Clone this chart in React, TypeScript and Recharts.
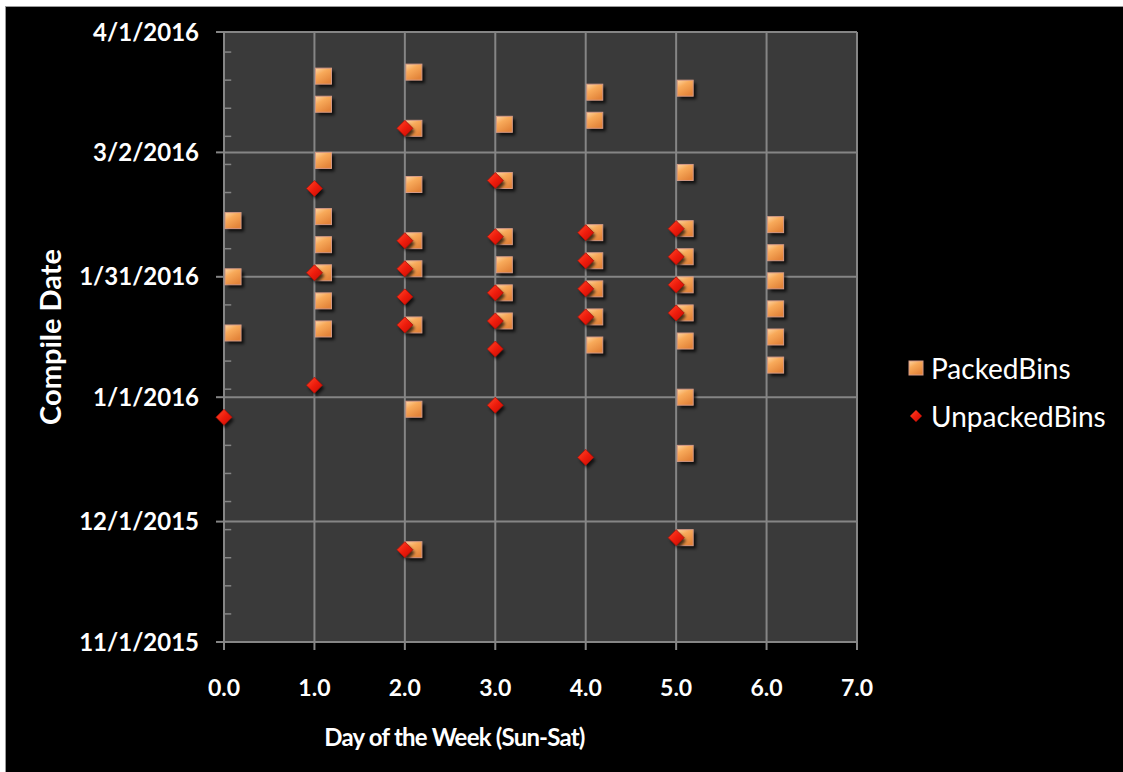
import { ScatterChart, Scatter, XAxis, YAxis, CartesianGrid, Legend, ReferenceLine } from 'recharts'

const FONT = 'Lato, "Open Sans", sans-serif'

// day of week (with +0.1 offset in the source sheet) and compile date
const packedDay = [
	0.1, 0.1, 0.1,
	1.1, 1.1, 1.1, 1.1, 1.1, 1.1, 1.1, 1.1,
	2.1, 2.1, 2.1, 2.1, 2.1, 2.1, 2.1, 2.1,
	3.1, 3.1, 3.1, 3.1, 3.1, 3.1,
	4.1, 4.1, 4.1, 4.1, 4.1, 4.1, 4.1,
	5.1, 5.1, 5.1, 5.1, 5.1, 5.1, 5.1, 5.1, 5.1, 5.1,
	6.1, 6.1, 6.1, 6.1, 6.1, 6.1,
]
const packedDate = [
	'2016-02-14', '2016-01-31', '2016-01-17',
	'2016-03-21', '2016-03-14', '2016-02-29', '2016-02-15', '2016-02-08', '2016-02-01', '2016-01-25', '2016-01-18',
	'2016-03-22', '2016-03-08', '2016-02-23', '2016-02-09', '2016-02-02', '2016-01-19', '2015-12-29', '2015-11-24',
	'2016-03-09', '2016-02-24', '2016-02-10', '2016-02-03', '2016-01-27', '2016-01-20',
	'2016-03-17', '2016-03-10', '2016-02-11', '2016-02-04', '2016-01-28', '2016-01-21', '2016-01-14',
	'2016-03-18', '2016-02-26', '2016-02-12', '2016-02-05', '2016-01-29', '2016-01-22', '2016-01-15', '2016-01-01', '2015-12-18', '2015-11-27',
	'2016-02-13', '2016-02-06', '2016-01-30', '2016-01-23', '2016-01-16', '2016-01-09',
]

const unpackedDay = [
	0,
	1, 1, 1,
	2, 2, 2, 2, 2, 2,
	3, 3, 3, 3, 3, 3,
	4, 4, 4, 4, 4,
	5, 5, 5, 5, 5,
]
const unpackedDate = [
	'2015-12-27',
	'2016-02-22', '2016-02-01', '2016-01-04',
	'2016-03-08', '2016-02-09', '2016-02-02', '2016-01-26', '2016-01-19', '2015-11-24',
	'2016-02-24', '2016-02-10', '2016-01-27', '2016-01-20', '2016-01-13', '2015-12-30',
	'2016-02-11', '2016-02-04', '2016-01-28', '2016-01-21', '2015-12-17',
	'2016-02-12', '2016-02-05', '2016-01-29', '2016-01-22', '2015-11-27',
]

const xTicks = [0, 1, 2, 3, 4, 5, 6, 7]
const yTickDates = ['2015-11-01', '2015-12-01', '2016-01-01', '2016-01-31', '2016-03-02', '2016-04-01']

const toTime = (s: string) => Date.parse(s)
const DAY = 86400000
const yMin = toTime('2015-11-01')
const yMax = toTime('2016-04-01')
const yTicks = yTickDates.map(toTime)

// weekly minor tick marks on the date axis
const minorTicks: number[] = []
for (let t = yMin + 7 * DAY; t < yMax; t += 7 * DAY) minorTicks.push(t)

const packedData = packedDay.map((x, i) => ({ x, y: toTime(packedDate[i]) }))
const unpackedData = unpackedDay.map((x, i) => ({ x, y: toTime(unpackedDate[i]) }))

const fmtDate = (v: number) => {
	const d = new Date(v)
	return `${d.getUTCMonth() + 1}/${d.getUTCDate()}/${d.getUTCFullYear()}`
}

const PackedSquare = (props: any) => {
	const { cx, cy } = props
	if (cx == null || cy == null) return null
	return (
		<g>
			<rect x={cx - 5} y={cy - 5} width={16} height={16} fill='#000' opacity={0.75} filter='url(#markShadow)' />
			<rect x={cx - 8} y={cy - 8} width={16} height={16} fill='url(#packedFill)' stroke='#d59a86' strokeWidth={1} />
		</g>
	)
}

const UnpackedDiamond = (props: any) => {
	const { cx, cy } = props
	if (cx == null || cy == null) return null
	const r = 8
	return (
		<g>
			<polygon
				points={`${cx + 2},${cy - r + 3} ${cx + r + 2},${cy + 3} ${cx + 2},${cy + r + 3} ${cx - r + 2},${cy + 3}`}
				fill='#000'
				opacity={0.7}
				filter='url(#markShadow)'
			/>
			<polygon
				points={`${cx},${cy - r} ${cx + r},${cy} ${cx},${cy + r} ${cx - r},${cy}`}
				fill='url(#unpackedFill)'
				stroke='#b01008'
				strokeWidth={0.8}
			/>
		</g>
	)
}

const renderLegend = (props: any) => {
	const { payload } = props
	return (
		<div style={{ fontFamily: FONT }}>
			{(payload || []).map((entry: any, i: number) => (
				<div key={`leg-${i}`} style={{ display: 'flex', alignItems: 'center', height: 48 }}>
					<svg width={20} height={20} style={{ marginRight: 5 }}>
						{entry.value === 'PackedBins' ? (
							<rect x={3} y={3} width={14} height={14} fill='url(#packedFill)' stroke='#d59a86' strokeWidth={1} />
						) : (
							<polygon points='10,4 16,10 10,16 4,10' fill='url(#unpackedFill)' />
						)}
					</svg>
					<span style={{ color: '#fff', fontSize: 28 }}>{entry.value}</span>
				</div>
			))}
		</div>
	)
}

const XTitle = (props: any) => {
	const { viewBox } = props
	if (!viewBox) return null
	return (
		<text
			x={viewBox.x + viewBox.width / 2 - 86}
			y={746}
			textAnchor='middle'
			fill='#fff'
			fontSize={24}
			fontWeight={700}
			fontFamily={FONT}
			letterSpacing={-0.8}
		>
			Day of the Week (Sun-Sat)
		</text>
	)
}

const YTitle = (props: any) => {
	const { viewBox } = props
	if (!viewBox) return null
	const cx = 49
	const cy = viewBox.y + viewBox.height / 2
	return (
		<text
			x={cx}
			y={cy}
			transform={`rotate(-90 ${cx} ${cy})`}
			textAnchor='middle'
			dominantBaseline='central'
			fill='#fff'
			fontSize={29}
			fontWeight={700}
			fontFamily={FONT}
		>
			Compile Date
		</text>
	)
}

export default function App() {
	return (
		<div style={{ position: 'fixed', left: 0, top: 0, width: 1123, height: 772, background: '#fff' }}>
			<div
				style={{
					position: 'absolute',
					left: 5,
					top: 6,
					right: 0,
					bottom: 0,
					background: '#000',
					borderLeft: '1px solid #9a9a9a',
					borderTop: '1px solid #9a9a9a',
				}}
			/>
			<div style={{ position: 'absolute', left: 0, top: 0 }}>
				<ScatterChart width={1123} height={772} margin={{ top: 32, right: 266, bottom: 0, left: 0 }}>
					<defs>
						<linearGradient id='packedFill' x1='0' y1='0' x2='0.6' y2='1'>
							<stop offset='0%' stopColor='#fdd6a4' />
							<stop offset='40%' stopColor='#f8aa5a' />
							<stop offset='100%' stopColor='#e3843a' />
						</linearGradient>
						<linearGradient id='unpackedFill' x1='0' y1='0' x2='1' y2='1'>
							<stop offset='0%' stopColor='#ff4a2a' />
							<stop offset='50%' stopColor='#ee1c0c' />
							<stop offset='100%' stopColor='#c20c04' />
						</linearGradient>
						<filter id='markShadow' x='-50%' y='-50%' width='200%' height='200%'>
							<feGaussianBlur stdDeviation='1.5' />
						</filter>
					</defs>
					<CartesianGrid fill='#3a3a3a' stroke='#858585' strokeWidth={2} />
					<XAxis
						type='number'
						dataKey='x'
						domain={[0, 7]}
						ticks={xTicks}
						interval={0}
						tickFormatter={(v: number) => v.toFixed(1)}
						height={130}
						tickSize={8}
						tickMargin={30}
						stroke='#858585'
						axisLine={{ stroke: '#858585', strokeWidth: 2 }}
						tickLine={{ stroke: '#858585', strokeWidth: 2 }}
						tick={{ fill: '#fff', fontSize: 23, fontWeight: 700, fontFamily: FONT }}
						label={<XTitle />}
					/>
					<YAxis
						type='number'
						dataKey='y'
						domain={[yMin, yMax]}
						ticks={yTicks}
						interval={0}
						tickFormatter={fmtDate}
						width={224}
						tickSize={8}
						tickMargin={17}
						axisLine={{ stroke: '#858585', strokeWidth: 2 }}
						tickLine={{ stroke: '#858585', strokeWidth: 2 }}
						tick={{ fill: '#fff', fontSize: 24, fontWeight: 700, fontFamily: FONT }}
						label={<YTitle />}
					/>
					{minorTicks.map((t) => (
						<ReferenceLine
							key={`minor-${t}`}
							segment={[
								{ x: 0, y: t },
								{ x: 0.08, y: t },
							]}
							stroke='#858585'
							strokeWidth={1.5}
						/>
					))}
					<Legend
						content={renderLegend}
						layout='vertical'
						align='center'
						verticalAlign='middle'
						wrapperStyle={{ position: 'absolute', left: 906, top: 344, width: 217 }}
					/>
					<Scatter name='PackedBins' data={packedData} shape={PackedSquare} isAnimationActive={false} />
					<Scatter name='UnpackedBins' data={unpackedData} shape={UnpackedDiamond} isAnimationActive={false} />
				</ScatterChart>
			</div>
		</div>
	)
}
